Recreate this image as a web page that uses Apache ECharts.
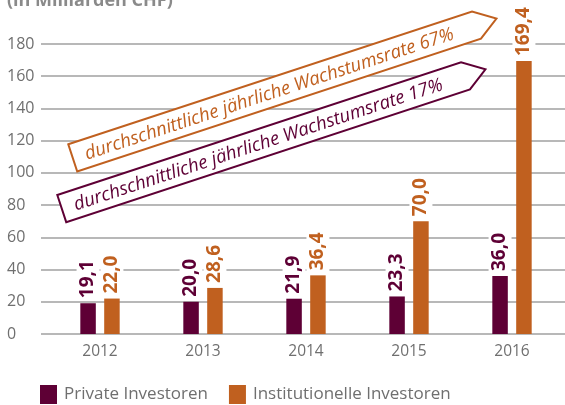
<!DOCTYPE html>
<html>
<head>
<meta charset="utf-8">
<script src="https://cdn.jsdelivr.net/npm/echarts@6/dist/echarts.min.js"></script>
<style>
  html, body { margin: 0; padding: 0; background: #fff; }
  #chart { width: 565px; height: 405px; }
</style>
</head>
<body>
<div id="chart"></div>
<script>
const years = ['2012', '2013', '2014', '2015', '2016']
const privateValues = [19.1, 20.0, 21.9, 23.3, 36.0]
const institutionalValues = [22.0, 28.6, 36.4, 70.0, 169.4]
const yTicks = [0, 20, 40, 60, 80, 100, 120, 140, 160, 180]

const PURPLE = '#5e0035'
const ORANGE = '#c0601f'
const GRAY = '#6f6f6f'
const FONT = '"Open Sans", "Noto Sans", sans-serif'

const chart = echarts.init(document.getElementById('chart'))

const fmt = (v) => v.toFixed(1).replace('.', ',')

const barLabel = (color) => ({
  show: true,
  position: 'top',
  rotate: 90,
  align: 'left',
  verticalAlign: 'middle',
  distance: 3,
  color: color,
  fontFamily: FONT,
  fontWeight: 'bold',
  fontSize: 19,
  backgroundColor: '#fff',
  padding: [2, 2, 2, 2],
  formatter: (p) => fmt(p.value)
})

// annotation arrows (tag shaped boxes)
const ANGLE = 18.2 * Math.PI / 180
const tag = (x, y, color, text) => {
  const len = 425
  const h = 28.6
  const tip = 21
  return {
    type: 'group',
    x: x,
    y: y,
    rotation: ANGLE,
    children: [
      {
        type: 'polygon',
        z: 100,
        shape: { points: [[0, 0], [len, 0], [len + tip, h / 2], [len, h], [0, h]] },
        style: { fill: '#fff', stroke: color, lineWidth: 2 }
      },
      {
        type: 'text',
        z: 101,
        x: 13,
        y: h / 2 + 1,
        style: {
          text: text,
          fill: color,
          font: 'italic 18.5px ' + FONT,
          align: 'left',
          verticalAlign: 'middle'
        }
      }
    ]
  }
}

const option = {
  animation: false,
  title: {
    text: '(in Milliarden CHF)',
    left: 7,
    top: -8,
    padding: 0,
    textStyle: { color: '#8a8a8a', fontFamily: FONT, fontWeight: 'bold', fontSize: 18 }
  },
  legend: {
    left: 35,
    bottom: -4,
    itemWidth: 17,
    itemHeight: 19,
    itemGap: 21,
    icon: 'rect',
    textStyle: { color: GRAY, fontFamily: FONT, fontSize: 17, padding: [0, 0, 0, 2] },
    data: ['Private Investoren', 'Institutionelle Investoren']
  },
  grid: [
    { left: 41, right: 0, top: 44, bottom: 71 },
    { left: 48.5, right: 1.5, top: 44, bottom: 71 }
  ],
  xAxis: [
    { type: 'value', gridIndex: 0, show: false, min: 0, max: 1 },
    {
      type: 'category',
      gridIndex: 1,
      data: years,
      axisLine: { show: false },
      axisTick: { show: false },
      axisLabel: { color: GRAY, fontFamily: FONT, fontSize: 15.5, margin: 10 }
    }
  ],
  yAxis: [
    {
      type: 'value',
      gridIndex: 0,
      min: yTicks[0],
      max: yTicks[yTicks.length - 1],
      interval: 20,
      axisLine: { show: false },
      axisTick: { show: false },
      axisLabel: {
        color: GRAY,
        fontFamily: FONT,
        fontSize: 16,
        align: 'left',
        margin: 34
      },
      splitLine: { lineStyle: { color: '#a0a0a0', width: 1.5 } }
    },
    {
      type: 'value',
      gridIndex: 1,
      min: yTicks[0],
      max: yTicks[yTicks.length - 1],
      show: false,
      splitLine: { show: false }
    }
  ],
  series: [
    {
      name: 'Private Investoren',
      type: 'bar',
      xAxisIndex: 1,
      yAxisIndex: 1,
      data: privateValues,
      barWidth: 15.5,
      barGap: '54%',
      itemStyle: { color: PURPLE },
      label: barLabel(PURPLE),
      z: 3
    },
    {
      name: 'Institutionelle Investoren',
      type: 'bar',
      xAxisIndex: 1,
      yAxisIndex: 1,
      data: institutionalValues,
      barWidth: 15.5,
      barGap: '54%',
      itemStyle: { color: ORANGE },
      label: barLabel(ORANGE),
      z: 3
    }
  ],
  graphic: [
    tag(68.3, 144.3, ORANGE, 'durchschnittliche jährliche Wachstumsrate 67%'),
    tag(57.3, 195, PURPLE, 'durchschnittliche jährliche Wachstumsrate 17%')
  ]
}

chart.setOption(option)
</script>
</body>
</html>
